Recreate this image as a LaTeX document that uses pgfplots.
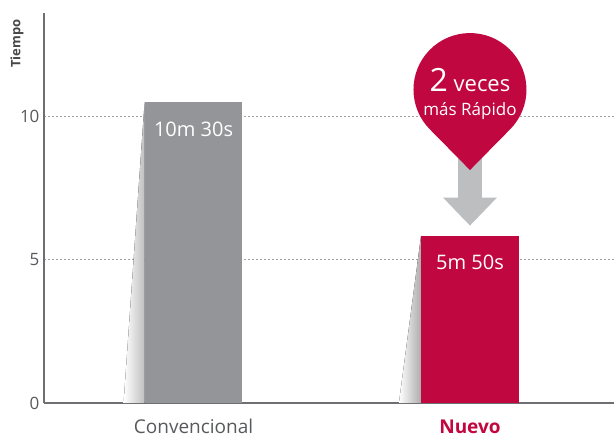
\documentclass[border=0pt]{standalone}
\usepackage{pgfplots}
\pgfplotsset{compat=1.18}
\usepackage{fontspec}
\setmainfont{Open Sans}
\definecolor{lgred}{RGB}{193,7,63}
\definecolor{bargray}{RGB}{147,149,152}
\definecolor{arrowgray}{RGB}{188,190,192}
\definecolor{axisgray}{RGB}{110,111,114}
\definecolor{textgray}{RGB}{88,89,91}
\definecolor{gridgray}{RGB}{160,160,160}

\begin{document}
\begin{tikzpicture}
\begin{axis}[
    at={(0,0)}, anchor=south west,
    scale only axis,
    width=570pt, height=390pt,
    xmin=-0.541, xmax=1.521,
    ymin=0, ymax=13.6,
    axis x line=bottom, axis y line=left,
    axis line style={-, axisgray, line width=1.3pt},
    xtick={0,1},
    xticklabels={Convencional, {\bfseries\color{lgred}Nuevo}},
    ytick={0,5,10},
    major tick length=0pt,
    /pgf/number format/assume math mode=true,
    yticklabel style={font=\fontsize{17}{19}\selectfont, text=textgray, xshift=-1pt},
    xticklabel style={font=\fontsize{19}{21}\selectfont, text=textgray, yshift=-13pt},
    ymajorgrids,
    grid style={dash pattern=on 2pt off 2pt, gridgray, line width=0.7pt},
    clip=false,
    bar width=0.354,
    nodes near coords,
    point meta=explicit symbolic,
    every node near coord/.append style={anchor=center, yshift=-27pt, text=white,
        font=\fontsize{20}{22}\selectfont},
]
% soft shadows to the left of the bars
\fill[left color=white, right color=gray!50] (axis cs:-0.177,10.5) -- (axis cs:-0.177,0) -- (axis cs:-0.253,0) -- cycle;
\fill[left color=white, right color=gray!65] (axis cs:0.823,5.833) -- (axis cs:0.823,0) -- (axis cs:0.743,0) -- cycle;

\addplot[ybar, bar shift=0pt, fill=bargray, draw=none]
    coordinates {(0,10.5) [10m 30s]};
\addplot[ybar, bar shift=0pt, fill=lgred, draw=none]
    coordinates {(1,5.833) [5m 50s]};

% speech pin with arrow
\begin{scope}[shift={(axis cs:1,10.93)}]
  \fill[arrowgray] (-12pt,-60pt) rectangle (12pt,-108pt);
  \fill[arrowgray] (-27pt,-108pt) -- (27pt,-108pt) -- (0pt,-136pt) -- cycle;
  \fill[lgred] (0pt,-80.5pt) -- (-44.6:56.5pt) arc[start angle=-44.6, end angle=224.6, radius=56.5pt] -- cycle;
  \node[text=white, anchor=base, inner sep=0pt] at (0pt,-2pt)
    {\fontsize{32}{34}\selectfont 2\fontsize{22}{24}\selectfont\ veces};
  \node[text=white, anchor=base, inner sep=0pt] at (0pt,-25.5pt)
    {\fontsize{17}{19}\selectfont más Rápido};
\end{scope}
\end{axis}
\node[rotate=90, text=textgray!80!black, font=\bfseries\fontsize{13}{15}\selectfont] at (-27pt,359.5pt) {Tiempo};
\pgfresetboundingbox
\path[use as bounding box] (-44pt,-35pt) rectangle (570pt,403pt);
\end{tikzpicture}
\end{document}
